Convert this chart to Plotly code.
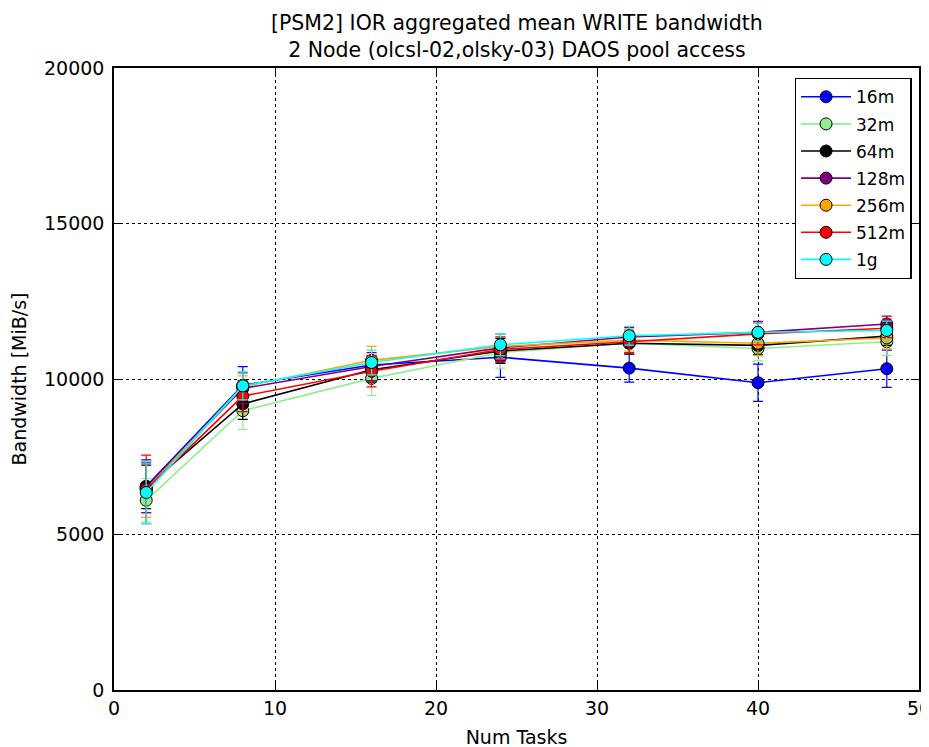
import plotly.graph_objects as go

num_tasks = [2, 8, 16, 24, 32, 40, 48]

series_names = ["16m", "32m", "64m", "128m", "256m", "512m", "1g"]
series_colors = ["#0000ff", "#90ee90", "#000000", "#800080", "#ffa500", "#ff0000", "#00ffff"]

bw_16m = [6550, 9800, 10450, 10700, 10350, 9880, 10330]
err_16m = [850, 600, 300, 650, 450, 600, 600]
bw_32m = [6100, 8980, 10020, 10850, 11150, 10980, 11200]
err_32m = [700, 600, 550, 500, 350, 400, 450]
bw_64m = [6530, 9200, 10300, 10900, 11150, 11080, 11380]
err_64m = [700, 500, 400, 400, 350, 300, 300]
bw_128m = [6500, 9700, 10400, 11000, 11350, 11500, 11770]
err_128m = [800, 500, 450, 450, 300, 350, 250]
bw_256m = [6450, 9750, 10600, 11050, 11250, 11150, 11320]
err_256m = [900, 350, 450, 400, 350, 400, 350]
bw_512m = [6450, 9450, 10250, 10950, 11200, 11450, 11630]
err_512m = [1100, 500, 500, 400, 350, 350, 300]
bw_1g = [6350, 9780, 10530, 11100, 11390, 11500, 11560]
err_1g = [1000, 450, 400, 350, 300, 300, 300]

values = [bw_16m, bw_32m, bw_64m, bw_128m, bw_256m, bw_512m, bw_1g]
errors = [err_16m, err_32m, err_64m, err_128m, err_256m, err_512m, err_1g]

x_ticks = [0, 10, 20, 30, 40, 50]
y_ticks = [0, 5000, 10000, 15000, 20000]

title_lines = ["[PSM2] IOR aggregated mean WRITE bandwidth",
               "2 Node (olcsl-02,olsky-03) DAOS pool access"]

FONT = "DejaVu Sans"

fig = go.Figure()
for name, col, vals, errs in zip(series_names, series_colors, values, errors):
    fig.add_trace(go.Scatter(
        x=num_tasks, y=vals, name=name, mode="lines+markers", legendgroup=name,
        line=dict(color=col, width=1.6),
        marker=dict(color=col, size=12, line=dict(color="black", width=1)),
        error_y=dict(type="data", array=errs, visible=True, color=col, thickness=1.2, width=5),
    ))

axis_common = dict(
    showline=True, linecolor="black", linewidth=1.5, mirror="ticks",
    ticks="inside", ticklen=8, tickcolor="black", tickwidth=1,
    showgrid=True, gridcolor="black", gridwidth=1, griddash="dot",
    zeroline=False, automargin=False,
    tickfont=dict(family=FONT, size=19, color="black"),
)

fig.update_layout(
    width=929, height=747,
    margin=dict(l=106, r=18, t=60, b=65),
    paper_bgcolor="white", plot_bgcolor="white",
    xaxis=dict(range=[0, 50], tickvals=x_ticks, ticktext=[str(t) for t in x_ticks],
               title=dict(text="Num Tasks", font=dict(family=FONT, size=19, color="black"), standoff=13),
               **axis_common),
    yaxis=dict(range=[0, 20000], tickvals=y_ticks, ticktext=[str(t) for t in y_ticks],
               ticklabelstandoff=4,
               title=dict(text="Bandwidth [MiB/s]", font=dict(family=FONT, size=19, color="black"), standoff=22),
               **axis_common),
    legend=dict(
        x=0.991, y=0.984, xanchor="right", yanchor="top",
        bgcolor="white", bordercolor="black", borderwidth=1.3,
        font=dict(family=FONT, size=17, color="black"),
        itemwidth=50, tracegroupgap=2,
    ),
    showlegend=True,
    annotations=[
        dict(text="<br>".join(title_lines), xref="paper", yref="paper", x=0.5, y=1.0514,
             xanchor="center", yanchor="middle", showarrow=False, align="center",
             font=dict(family=FONT, size=20.5, color="black")),
    ],
)

fig.write_html("out.html")
